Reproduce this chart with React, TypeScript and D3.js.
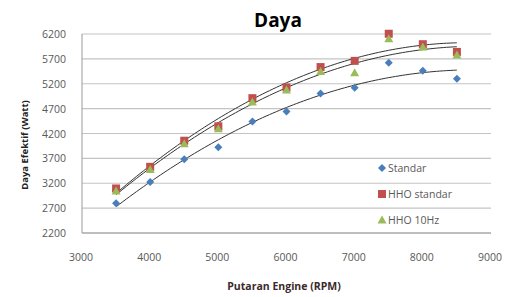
import * as d3 from 'd3';

const rpm = [3500, 4000, 4500, 5000, 5500, 6000, 6500, 7000, 7500, 8000, 8500];
const standar = [2800, 3225, 3680, 3925, 4440, 4640, 5005, 5120, 5620, 5460, 5300];
const hhoStandar = [3095, 3530, 4055, 4345, 4910, 5125, 5535, 5660, 6205, 5995, 5840];
const hho10 = [3045, 3475, 3995, 4295, 4835, 5075, 5445, 5420, 6105, 5940, 5780];

const xTicks = [3000, 4000, 5000, 6000, 7000, 8000, 9000];
const yTicks = [2200, 2700, 3200, 3700, 4200, 4700, 5200, 5700, 6200];

const seriesNames = ['Standar', 'HHO standar', 'HHO 10Hz'];
const seriesColors = ['#4a7ebb', '#c0504d', '#9bbb59'];
const seriesData = [standar, hhoStandar, hho10];

const font = '"Open Sans", sans-serif';

// second order least squares, like an excel polynomial trendline
function quadFit(xs: number[], ys: number[]) {
  const n = xs.length;
  const mx = d3.mean(xs)!;
  const u = xs.map(x => (x - mx) / 1000);
  let s1 = 0, s2 = 0, s3 = 0, s4 = 0, t0 = 0, t1 = 0, t2 = 0;
  u.forEach((v, i) => {
    s1 += v; s2 += v * v; s3 += v ** 3; s4 += v ** 4;
    t0 += ys[i]; t1 += v * ys[i]; t2 += v * v * ys[i];
  });
  const A = [[n, s1, s2], [s1, s2, s3], [s2, s3, s4]];
  const b = [t0, t1, t2];
  const det = (m: number[][]) =>
    m[0][0] * (m[1][1] * m[2][2] - m[1][2] * m[2][1]) -
    m[0][1] * (m[1][0] * m[2][2] - m[1][2] * m[2][0]) +
    m[0][2] * (m[1][0] * m[2][1] - m[1][1] * m[2][0]);
  const D = det(A);
  const coef = [0, 1, 2].map(k => det(A.map((row, i) => row.map((c, j) => (j === k ? b[i] : c)))) / D);
  return (x: number) => {
    const v = (x - mx) / 1000;
    return coef[0] + coef[1] * v + coef[2] * v * v;
  };
}

const App = () => {
  const left = 82, right = 491, top = 34, bottom = 233;
  const x = d3.scaleLinear().domain([3000, 9000]).range([left, right]);
  const y = d3.scaleLinear().domain([2200, 6200]).range([bottom, top]);

  const line = d3.line<number>().curve(d3.curveBasis);
  const fine = d3.range(rpm[0], rpm[rpm.length - 1] + 1, 50);

  const marker = (k: number, cx: number, cy: number, key: string) => {
    if (k === 0) {
      return <path key={key} d={`M${cx},${cy - 4}L${cx + 4},${cy}L${cx},${cy + 4}L${cx - 4},${cy}Z`} fill={seriesColors[0]} />;
    }
    if (k === 1) {
      return <rect key={key} x={cx - 4} y={cy - 4} width={8} height={8} fill={seriesColors[1]} />;
    }
    return <path key={key} d={`M${cx},${cy - 4.5}L${cx + 4.5},${cy + 3.5}L${cx - 4.5},${cy + 3.5}Z`} fill={seriesColors[2]} />;
  };

  return (
    <div style={{ position: 'absolute', left: 0, top: 0 }}>
      <svg width={505} height={297} style={{ display: 'block', background: '#fff' }}>
        <text x={278} y={27} textAnchor="middle" fontFamily={font} fontWeight="bold" fontSize={19} fill="#000">Daya</text>

        {yTicks.map(t => (
          <line key={'g' + t} x1={left} x2={right} y1={y(t)} y2={y(t)} stroke="#c4c4c4" strokeWidth={1.2} />
        ))}
        <line x1={left} x2={left} y1={top} y2={bottom} stroke="#9a9a9a" strokeWidth={1} />
        <line x1={left} x2={right} y1={bottom} y2={bottom} stroke="#9a9a9a" strokeWidth={1} />

        {yTicks.map(t => (
          <text key={'y' + t} x={66} y={y(t) + 4} textAnchor="end" fontFamily={font} fontSize={10.5} fill="#595959">{t}</text>
        ))}
        {xTicks.map(t => (
          <text key={'x' + t} x={x(t) - 1} y={261} textAnchor="middle" fontFamily={font} fontSize={10.5} fill="#595959">{t}</text>
        ))}

        <text x={284} y={290} textAnchor="middle" fontFamily={font} fontWeight="bold" fontSize={10.5} fill="#3a2a2a">Putaran Engine (RPM)</text>
        <text transform={`translate(28,145) rotate(-90)`} textAnchor="middle" fontFamily={font} fontWeight="bold" fontSize={9.5} fill="#222">Daya Efektif (Watt)</text>

        {seriesData.map((vals, k) => {
          const f = quadFit(rpm, vals);
          return (
            <path key={'t' + k} d={line(fine.map(r => [x(r), y(f(r))]) as any) || ''} fill="none" stroke="#333" strokeWidth={1} />
          );
        })}

        {seriesData.map((vals, k) => (
          <g key={'s' + k}>
            {vals.map((v, i) => marker(k, x(rpm[i]), y(v), `m${k}-${i}`))}
          </g>
        ))}

        {seriesNames.map((name, k) => {
          const ly = [168, 194, 220][k];
          return (
            <g key={'l' + k}>
              {marker(k, 382, ly, 'lm' + k)}
              <text x={388} y={ly + 4} fontFamily={font} fontSize={10.5} fill="#595959">{name}</text>
            </g>
          );
        })}
      </svg>
    </div>
  );
};

export default App;
